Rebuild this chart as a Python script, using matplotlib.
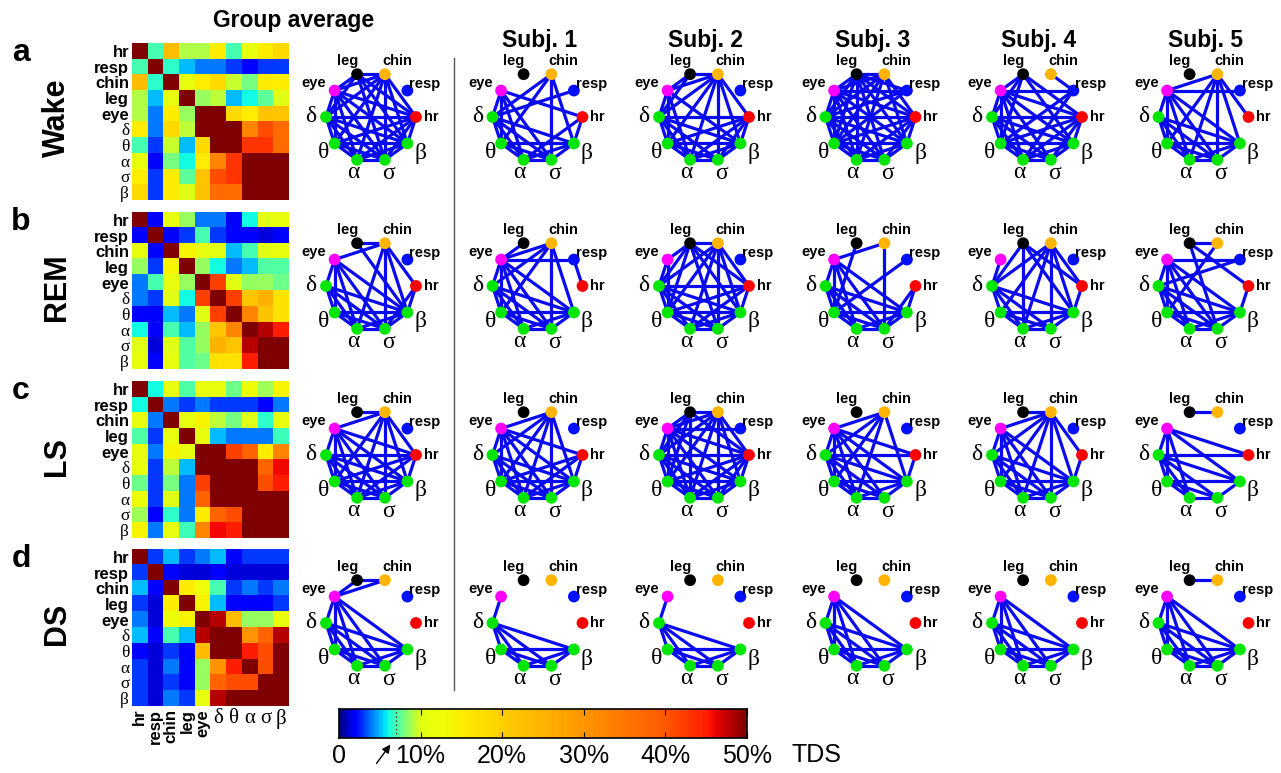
import numpy as np
import matplotlib
matplotlib.use("Agg")
import matplotlib.pyplot as plt
from matplotlib.colors import ListedColormap

# ---------------- data ----------------
NODES = ["hr", "resp", "chin", "leg", "eye", "δ", "θ", "α", "σ", "β"]
NODE_COLORS = ["#ff0000", "#0010ff", "#ffb400", "#000000", "#ff00ff",
               "#00e600", "#00e600", "#00e600", "#00e600", "#00e600"]
STAGES = ["Wake", "REM", "LS", "DS"]
PANEL_LETTERS = ["a", "b", "c", "d"]
COLUMN_TITLES = ["Group average", "Subj. 1", "Subj. 2", "Subj. 3", "Subj. 4", "Subj. 5"]
CBAR_TICKS = [0, 10, 20, 30, 40, 50]
CBAR_LABELS = ["0", "10%", "20%", "30%", "40%", "50%"]
THRESHOLD = 7.0  # % TDS, marked on colour bar

# group-average TDS matrices (%)
WAKE_TDS = [
    [50, 7, 23, 9, 9, 15, 7, 11, 15, 18],
    [7, 50, 6.5, 5, 4, 4, 3, 2, 3, 3],
    [23, 6.5, 50, 11, 15, 18, 9.5, 8, 15, 15],
    [9, 5, 11, 50, 8.5, 9.3, 5, 6, 7.5, 10],
    [9, 4, 15, 8.5, 50, 50, 18, 15, 22, 22],
    [15, 4, 18, 9.3, 50, 50, 50, 33, 41, 37],
    [7, 3, 9.5, 5, 18, 50, 50, 43, 43, 37],
    [11, 2, 8, 6, 15, 33, 43, 50, 50, 50],
    [15, 3, 15, 7.5, 22, 41, 43, 50, 50, 50],
    [18, 3, 15, 10, 22, 37, 37, 50, 50, 50]]
REM_TDS = [
    [50, 2, 11, 8.5, 4, 4, 2, 6, 10, 11],
    [2, 50, 2, 3, 7, 3, 2, 2, 1.3, 2],
    [11, 2, 50, 14, 11, 10, 5, 7, 10, 11],
    [8.5, 3, 14, 50, 8.5, 6, 4, 5, 7.3, 7.3],
    [4, 7, 11, 8.5, 50, 42, 10, 8.5, 8.5, 7.8],
    [4, 3, 10, 6, 42, 50, 42, 22, 25, 17],
    [2, 2, 5, 4, 10, 42, 50, 33, 22, 17],
    [6, 2, 7, 5, 8.5, 22, 33, 50, 48, 45],
    [10, 1.3, 10, 7.3, 8.5, 25, 22, 48, 50, 50],
    [11, 2, 11, 7.3, 7.8, 17, 17, 45, 50, 50]]
LS_TDS = [
    [50, 6, 11, 7.2, 11, 11, 7.8, 12, 8.7, 14],
    [6, 50, 4, 3, 4, 3, 3, 3, 2, 4],
    [11, 4, 50, 11, 14, 9.3, 8, 10, 6.5, 11],
    [7.2, 3, 11, 50, 11, 5, 4, 4, 4, 6.8],
    [11, 4, 14, 11, 50, 50, 42, 38, 15, 33],
    [11, 3, 9.3, 5, 50, 50, 50, 50, 38, 46],
    [7.8, 3, 8, 4, 42, 50, 50, 50, 41, 45],
    [12, 3, 10, 4, 38, 50, 50, 50, 50, 50],
    [8.7, 2, 6.5, 4, 15, 38, 41, 50, 50, 50],
    [14, 4, 11, 6.8, 33, 46, 45, 50, 50, 50]]
DS_TDS = [
    [50, 3, 5, 3, 4, 5, 2, 3, 3, 3],
    [3, 50, 2, 1.3, 1.3, 2, 1.3, 1.3, 1.3, 1.3],
    [5, 2, 50, 15, 12, 7, 3, 4, 3, 4],
    [3, 1.3, 15, 50, 14, 5, 2, 2, 2, 3],
    [4, 1.3, 12, 14, 50, 48, 23, 8.5, 8.5, 11],
    [5, 2, 7, 5, 48, 50, 50, 30, 38, 48],
    [2, 1.3, 3, 2, 23, 50, 50, 45, 41, 50],
    [3, 1.3, 4, 2, 8.5, 30, 45, 50, 41, 50],
    [3, 1.3, 3, 2, 8.5, 38, 41, 41, 50, 50],
    [3, 1.3, 4, 3, 11, 48, 50, 50, 50, 50]]
TDS = [WAKE_TDS, REM_TDS, LS_TDS, DS_TDS]

# network links (group average, then subjects 1-5)
BANDS = "δ-θ δ-α δ-σ δ-β θ-α θ-σ θ-β α-σ α-β σ-β"
WAKE_EDGES = [
    "leg-chin leg-eye leg-hr leg-δ leg-σ leg-β chin-eye chin-hr chin-δ chin-θ chin-α chin-σ chin-β "
    "eye-hr eye-δ eye-θ eye-α eye-σ eye-β hr-δ hr-θ hr-α hr-σ hr-β " + BANDS,
    "chin-δ chin-θ chin-σ chin-β resp-δ eye-δ eye-θ eye-α eye-σ eye-hr hr-α hr-β " + BANDS,
    "leg-chin leg-eye leg-δ chin-eye chin-δ chin-θ chin-α chin-σ chin-β chin-hr eye-δ eye-θ eye-α eye-β "
    "hr-δ hr-θ hr-α hr-σ hr-β " + BANDS,
    "leg-chin leg-eye leg-δ leg-θ leg-α leg-σ leg-β leg-hr leg-resp chin-eye chin-δ chin-θ chin-α chin-β "
    "chin-hr resp-eye resp-δ resp-θ eye-δ eye-θ eye-α eye-σ eye-β eye-hr hr-δ hr-θ hr-α hr-σ hr-β " + BANDS,
    "leg-eye leg-δ leg-θ leg-β leg-hr chin-resp eye-resp eye-δ eye-θ eye-α eye-σ eye-β eye-hr resp-θ "
    "resp-α hr-δ hr-θ hr-α hr-σ hr-β " + BANDS,
    "chin-eye chin-θ chin-α chin-σ chin-β chin-hr eye-resp eye-δ eye-θ eye-α eye-σ eye-β " + BANDS,
]
REM_EDGES = [
    "leg-chin leg-β chin-eye chin-hr chin-α chin-σ chin-β eye-δ eye-θ eye-α eye-σ eye-β hr-σ hr-β " + BANDS,
    "leg-eye chin-eye chin-δ chin-θ chin-σ chin-β resp-eye resp-hr eye-δ eye-θ eye-α eye-σ eye-β " + BANDS,
    "leg-chin leg-eye leg-δ leg-θ leg-σ leg-β leg-hr chin-δ chin-θ chin-α chin-σ chin-β chin-hr "
    "eye-δ eye-θ hr-δ hr-θ hr-α hr-β " + BANDS,
    "chin-eye chin-σ leg-θ resp-θ eye-δ eye-θ eye-α eye-σ eye-β hr-σ hr-β " + BANDS,
    "leg-δ leg-α leg-β leg-hr chin-δ chin-θ chin-α chin-σ chin-β chin-hr eye-δ hr-β " + BANDS,
    "leg-chin leg-hr leg-σ chin-θ eye-resp resp-δ eye-δ eye-θ eye-α eye-σ eye-β hr-β " + BANDS,
]
LS_EDGES = [
    "leg-chin chin-eye chin-θ chin-α chin-σ chin-β chin-hr eye-δ eye-θ eye-α eye-σ eye-β eye-hr "
    "hr-δ hr-θ hr-α hr-β " + BANDS,
    "chin-eye chin-δ chin-θ chin-α chin-σ chin-β eye-δ eye-θ eye-α eye-σ eye-β eye-hr hr-θ hr-α hr-β " + BANDS,
    "leg-chin leg-eye leg-δ leg-θ leg-α leg-hr chin-eye chin-δ chin-θ chin-α chin-σ chin-β chin-hr "
    "eye-resp eye-δ eye-θ eye-α eye-σ eye-β eye-hr hr-δ hr-θ hr-α hr-σ hr-β " + BANDS,
    "chin-eye chin-δ chin-θ chin-α chin-β eye-hr eye-δ eye-θ eye-α eye-σ eye-β hr-δ hr-β " + BANDS,
    "leg-chin chin-eye chin-δ chin-θ chin-α chin-σ chin-β chin-hr eye-δ eye-θ eye-α eye-σ eye-β hr-β " + BANDS,
    "leg-chin eye-hr eye-β eye-δ eye-θ eye-α hr-δ δ-θ δ-α δ-σ δ-β θ-α θ-σ θ-β α-σ σ-β",
]
DS_EDGES = [
    "leg-chin eye-chin eye-leg eye-δ eye-θ eye-α eye-σ eye-β " + BANDS,
    "eye-δ " + BANDS,
    "eye-δ " + BANDS,
    "eye-δ eye-θ eye-α eye-σ eye-β " + BANDS,
    "eye-δ eye-θ eye-α eye-σ eye-β " + BANDS,
    "leg-chin eye-δ eye-θ eye-α eye-σ eye-β " + BANDS,
]
EDGES = [WAKE_EDGES, REM_EDGES, LS_EDGES, DS_EDGES]

# ---------------- styling / layout ----------------
W, H = 1281, 773
SANS = ["Liberation Sans", "DejaVu Sans"]
SERIF = ["Liberation Serif", "DejaVu Serif"]
EDGE_COLOR = "#0a0af0"

# non-linear jet colour scale (0-10 % spans the cool half, 10-50 % the warm half)
PCT_PTS = [0, 2, 6, 10, 20, 30, 40, 45, 50]
JET_PTS = [0.0, 0.125, 0.375, 0.625, 0.69, 0.75, 0.815, 0.875, 1.0]
_levels = np.linspace(0, 50, 512)
CMAP = ListedColormap(plt.cm.jet(np.interp(_levels, PCT_PTS, JET_PTS)))


def rect(x0, y0, w, h):
    return [x0 / W, 1 - (y0 + h) / H, w / W, h / H]


fig = plt.figure(figsize=(W / 100, H / 100), dpi=100)

HM_X, HM_SIZE = 132, 157
HM_TOPS = [43, 212, 381, 549]
NET_CX = [371 + 166.5 * k for k in range(6)]
NET_CY = [117, 286, 455, 623]
NET_R_PX = 45
NET_BOX = 170
LIM = NET_BOX / 2 / NET_R_PX

ang = np.deg2rad(36 * np.arange(len(NODES)))
node_x, node_y = np.cos(ang), np.sin(ang)
LABEL_OFFSETS = {"hr": (1.33, 0.0), "resp": (1.20, 0.74), "chin": (0.58, 1.25), "leg": (-0.53, 1.25),
                 "eye": (-1.27, 0.76), "δ": (-1.33, 0.02), "θ": (-1.05, -0.80), "α": (-0.40, -1.24),
                 "σ": (0.38, -1.26), "β": (1.10, -0.80)}

for r, stage in enumerate(STAGES):
    # ---- heatmap ----
    ax = fig.add_axes(rect(HM_X, HM_TOPS[r], HM_SIZE, HM_SIZE))
    ax.imshow(np.array(TDS[r]), cmap=CMAP, vmin=0, vmax=50, aspect="auto", interpolation="nearest")
    ax.set_yticks(range(len(NODES)))
    ax.set_yticklabels(NODES)
    for i, lab in enumerate(ax.get_yticklabels()):
        if i < 5:
            lab.set_fontfamily(SANS); lab.set_fontweight("bold"); lab.set_fontsize(12)
        else:
            lab.set_fontfamily(SERIF); lab.set_fontsize(12.5)
    if r == len(STAGES) - 1:
        ax.set_xticks(range(len(NODES)))
        ax.set_xticklabels(NODES)
        for i, lab in enumerate(ax.get_xticklabels()):
            if i < 5:
                lab.set_fontfamily(SANS); lab.set_fontweight("bold"); lab.set_fontsize(12)
                lab.set_rotation(90); lab.set_va("top"); lab.set_ha("center")
            else:
                lab.set_fontfamily(SERIF); lab.set_fontsize(15)
    else:
        ax.set_xticks([])
    ax.tick_params(length=0, pad=2)
    for s in ax.spines.values():
        s.set_visible(False)

    fig.text(21 / W, 1 - (HM_TOPS[r] + 10) / H, PANEL_LETTERS[r], fontsize=23, fontweight="bold",
             family=SANS, ha="center", va="center")
    fig.text(57 / W, 1 - (NET_CY[r] + 1) / H, stage, fontsize=22, fontweight="bold", family=SANS,
             rotation=90, ha="center", va="center")

    # ---- networks ----
    for c in range(6):
        nax = fig.add_axes(rect(NET_CX[c] - NET_BOX / 2, NET_CY[r] - NET_BOX / 2, NET_BOX, NET_BOX))
        nax.set_xlim(-LIM, LIM); nax.set_ylim(-LIM, LIM)
        nax.axis("off")
        for e in EDGES[r][c].split():
            a, b = e.split("-")
            i, j = NODES.index(a), NODES.index(b)
            nax.plot([node_x[i], node_x[j]], [node_y[i], node_y[j]], color=EDGE_COLOR, lw=2.3,
                     solid_capstyle="round", zorder=1)
        nax.scatter(node_x, node_y, s=72, c=NODE_COLORS, zorder=3, linewidths=0)
        for k, name in enumerate(NODES):
            lx, ly = LABEL_OFFSETS[name]
            if k < 5:
                nax.text(lx, ly, name, fontsize=10.5, fontweight="bold", family=SANS,
                         ha="center", va="center", clip_on=False)
            else:
                nax.text(lx, ly, name, fontsize=17, family=SERIF, ha="center", va="center",
                         clip_on=False)

# column titles
fig.text(294 / W, 1 - 21 / H, COLUMN_TITLES[0], fontsize=16.5, fontweight="bold", family=SANS,
         ha="center", va="center")
for c in range(1, 6):
    fig.text((NET_CX[c] + 2) / W, 1 - 41 / H, COLUMN_TITLES[c], fontsize=16.5, fontweight="bold",
             family=SANS, ha="center", va="center")

# separator
fig.add_artist(plt.Line2D([454 / W, 454 / W], [1 - 58 / H, 1 - 690 / H], color="#555555", lw=1.0,
                          transform=fig.transFigure))

# colour bar
cax = fig.add_axes(rect(339, 709, 408, 29))
cax.imshow(np.linspace(0, 50, 600)[None, :], cmap=CMAP, vmin=0, vmax=50, aspect="auto",
           extent=[0, 50, 0, 1])
cax.set_xlim(0, 50); cax.set_ylim(0, 1)
cax.set_yticks([])
cax.set_xticks(CBAR_TICKS)
cax.set_xticklabels(CBAR_LABELS, fontsize=18, family=SANS)
cax.tick_params(axis="x", direction="in", top=True, length=4, width=0.8, pad=4)
for s in cax.spines.values():
    s.set_linewidth(1.2)
cax.axvline(THRESHOLD, color="#333333", lw=1.0, ls=(0, (1, 2)))
cax.annotate("", xy=(6.5, -0.15), xytext=(4.4, -0.95), xycoords="data", textcoords="data",
             arrowprops=dict(arrowstyle="-|>", color="black", lw=1.0, mutation_scale=12),
             annotation_clip=False)
cax.text(1.17, -0.6, "TDS", transform=cax.transAxes, fontsize=18, family=SANS, ha="center",
         va="center")

fig.savefig("out.png", dpi=100)
